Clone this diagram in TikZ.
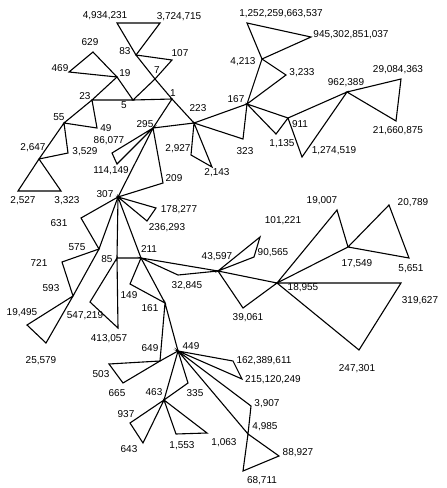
\documentclass[tikz,border=0pt]{standalone}
\usepackage{fontspec}
\setmainfont{Liberation Sans}
\usepackage{tikz}

\begin{document}
\begin{tikzpicture}[x=1pt, y=-1pt, font=\fontsize{10}{12}\selectfont,
  lbl/.style={inner sep=0pt},
  edge/.style={line width=1.1pt}]
\useasboundingbox (0,0) rectangle (447,488);
% vertices
\coordinate (n4934231) at (117,23);
\coordinate (n3724715) at (160,23);
\coordinate (n83) at (136,55);
\coordinate (n107) at (172,60);
\coordinate (n7) at (155,79);
\coordinate (n629) at (93,52);
\coordinate (n469) at (69,72);
\coordinate (n19) at (117,77);
\coordinate (n5) at (133,100);
\coordinate (n1) at (172,99);
\coordinate (n23) at (92,100);
\coordinate (n49) at (97,128);
\coordinate (n55) at (64,123);
\coordinate (n3529) at (68,153);
\coordinate (n2647) at (39,159);
\coordinate (n2527) at (18,191);
\coordinate (n3323) at (61,191);
\coordinate (n295) at (153,128);
\coordinate (n223) at (194,123);
\coordinate (n86077) at (112,153);
\coordinate (n114149) at (117,164);
\coordinate (n209) at (163,183);
\coordinate (n307) at (118,197);
\coordinate (n2927) at (191,155);
\coordinate (n2143) at (212,167);
\coordinate (n323) at (243,139);
\coordinate (n167) at (247,104);
\coordinate (n4213) at (262,59);
\coordinate (n1252) at (247,23);
\coordinate (n945) at (311,37);
\coordinate (n3233) at (286,75);
\coordinate (n911) at (288,118);
\coordinate (n1135) at (276,134);
\coordinate (n962389) at (347,92);
\coordinate (n1274519) at (302,157);
\coordinate (n29084363) at (401,79);
\coordinate (n21660875) at (396,121);
\coordinate (n178277) at (156,208);
\coordinate (n236293) at (147,221);
\coordinate (n631) at (81,218);
\coordinate (n575) at (99,249);
\coordinate (n85) at (117,258);
\coordinate (n211) at (141,258);
\coordinate (n721) at (62,262);
\coordinate (n593) at (73,296);
\coordinate (n19495) at (27,325);
\coordinate (n25579) at (46,343);
\coordinate (n547219) at (90,302);
\coordinate (n413057) at (118,328);
\coordinate (n149) at (130,284);
\coordinate (n161) at (165,303);
\coordinate (n32845) at (178,275);
\coordinate (n43597) at (218,271);
\coordinate (n449) at (178,351);
\coordinate (n649) at (160,361);
\coordinate (n503) at (109,364);
\coordinate (n665) at (123,383);
\coordinate (n101221) at (260,237);
\coordinate (n90565) at (254,257);
\coordinate (n18955) at (277,283);
\coordinate (n39061) at (243,308);
\coordinate (n19007) at (337,210);
\coordinate (n17549) at (348,247);
\coordinate (n20789) at (389,205);
\coordinate (n5651) at (409,258);
\coordinate (n319627) at (401,283);
\coordinate (n247301) at (359,350);
\coordinate (n162389611) at (233,361);
\coordinate (n215120249) at (242,379);
\coordinate (n3907) at (251,406);
\coordinate (n4985) at (248,434);
\coordinate (n88927) at (279,456);
\coordinate (n68711) at (243,471);
\coordinate (n335) at (188,383);
\coordinate (n463) at (164,400);
\coordinate (n937) at (130,423);
\coordinate (n643) at (143,443);
\coordinate (n1553) at (176,434);
\coordinate (n1063) at (207,433);
% triangles
\draw[edge] (n83) -- (n4934231) -- (n3724715) -- cycle;
\draw[edge] (n83) -- (n107) -- (n7) -- cycle;
\draw[edge] (n19) -- (n629) -- (n469) -- cycle;
\draw[edge] (n5) -- (n19) -- (n23) -- cycle;
\draw[edge] (n1) -- (n7) -- (n5) -- cycle;
\draw[edge] (n23) -- (n55) -- (n49) -- cycle;
\draw[edge] (n55) -- (n2647) -- (n3529) -- cycle;
\draw[edge] (n2647) -- (n2527) -- (n3323) -- cycle;
\draw[edge] (n1) -- (n295) -- (n223) -- cycle;
\draw[edge] (n295) -- (n86077) -- (n114149) -- cycle;
\draw[edge] (n295) -- (n209) -- (n307) -- cycle;
\draw[edge] (n223) -- (n2927) -- (n2143) -- cycle;
\draw[edge] (n223) -- (n167) -- (n323) -- cycle;
\draw[edge] (n167) -- (n4213) -- (n3233) -- cycle;
\draw[edge] (n4213) -- (n1252) -- (n945) -- cycle;
\draw[edge] (n167) -- (n911) -- (n1135) -- cycle;
\draw[edge] (n911) -- (n962389) -- (n1274519) -- cycle;
\draw[edge] (n962389) -- (n29084363) -- (n21660875) -- cycle;
\draw[edge] (n307) -- (n178277) -- (n236293) -- cycle;
\draw[edge] (n307) -- (n631) -- (n575) -- cycle;
\draw[edge] (n307) -- (n85) -- (n211) -- cycle;
\draw[edge] (n575) -- (n721) -- (n593) -- cycle;
\draw[edge] (n593) -- (n19495) -- (n25579) -- cycle;
\draw[edge] (n85) -- (n547219) -- (n413057) -- cycle;
\draw[edge] (n211) -- (n149) -- (n161) -- cycle;
\draw[edge] (n211) -- (n32845) -- (n43597) -- cycle;
\draw[edge] (n161) -- (n449) -- (n649) -- cycle;
\draw[edge] (n649) -- (n503) -- (n665) -- cycle;
\draw[edge] (n43597) -- (n101221) -- (n90565) -- cycle;
\draw[edge] (n43597) -- (n39061) -- (n18955) -- cycle;
\draw[edge] (n18955) -- (n19007) -- (n17549) -- cycle;
\draw[edge] (n17549) -- (n20789) -- (n5651) -- cycle;
\draw[edge] (n18955) -- (n319627) -- (n247301) -- cycle;
\draw[edge] (n449) -- (n162389611) -- (n215120249) -- cycle;
\draw[edge] (n449) -- (n3907) -- (n4985) -- cycle;
\draw[edge] (n4985) -- (n88927) -- (n68711) -- cycle;
\draw[edge] (n449) -- (n335) -- (n463) -- cycle;
\draw[edge] (n463) -- (n937) -- (n643) -- cycle;
\draw[edge] (n463) -- (n1553) -- (n1063) -- cycle;
% labels
\node[lbl] (t4934231) at (105,16) {4,934,231};
\node[lbl] (t3724715) at (179,17) {3,724,715};
\node[lbl] (t83) at (125,51) {83};
\node[lbl] (t107) at (180,53) {107};
\node[lbl] (t629) at (90,42) {629};
\node[lbl] (t469) at (60,68) {469};
\node[lbl] (t19) at (125,73) {19};
\node[lbl] (t7) at (157,70) {7};
\node[lbl] (t23) at (85,96) {23};
\node[lbl] (t5) at (124,105) {5};
\node[lbl] (t1) at (173,93) {1};
\node[lbl] (t223) at (198,108) {223};
\node[lbl] (t55) at (59,117) {55};
\node[lbl] (t49) at (106,128) {49};
\node[lbl] (t295) at (145,124) {295};
\node[lbl] (t86077) at (109,141) {86,077};
\node[lbl] (t2647) at (33,148) {2,647};
\node[lbl] (t3529) at (85,152) {3,529};
\node[lbl] (t2927) at (178,149) {2,927};
\node[lbl] (t1252) at (281,14) {1,252,259,663,537};
\node[lbl] (t945) at (351,35) {945,302,851,037};
\node[lbl] (t4213) at (243,62) {4,213};
\node[lbl] (t3233) at (302,73) {3,233};
\node[lbl] (t962389) at (346,83) {962,389};
\node[lbl] (t29084363) at (398,70) {29,084,363};
\node[lbl] (t167) at (236,99) {167};
\node[lbl] (t911) at (300,124) {911};
\node[lbl] (t21660875) at (398,131) {21,660,875};
\node[lbl] (t323) at (245,151) {323};
\node[lbl] (t1135) at (282,144) {1,135};
\node[lbl] (t1274519) at (334,151) {1,274,519};
\node[lbl] (t114149) at (111,171) {114,149};
\node[lbl] (t209) at (174,178) {209};
\node[lbl] (t2143) at (217,173) {2,143};
\node[lbl] (t2527) at (23,201) {2,527};
\node[lbl] (t3323) at (67,201) {3,323};
\node[lbl] (t307) at (105,194) {307};
\node[lbl] (t178277) at (179,210) {178,277};
\node[lbl] (t236293) at (167,228) {236,293};
\node[lbl] (t631) at (59,223) {631};
\node[lbl] (t575) at (77,247) {575};
\node[lbl] (t211) at (149,249) {211};
\node[lbl] (t85) at (107,259) {85};
\node[lbl] (t721) at (39,263) {721};
\node[lbl] (t43597) at (217,257) {43,597};
\node[lbl] (t32845) at (187,286) {32,845};
\node[lbl] (t101221) at (283,221) {101,221};
\node[lbl] (t19007) at (322,201) {19,007};
\node[lbl] (t20789) at (413,203) {20,789};
\node[lbl] (t90565) at (273,253) {90,565};
\node[lbl] (t17549) at (357,264) {17,549};
\node[lbl] (t5651) at (411,269) {5,651};
\node[lbl] (t18955) at (303,288) {18,955};
\node[lbl] (t593) at (51,288) {593};
\node[lbl] (t149) at (129,295) {149};
\node[lbl] (t161) at (150,308) {161};
\node[lbl] (t19495) at (22,313) {19,495};
\node[lbl] (t547219) at (85,316) {547,219};
\node[lbl] (t413057) at (109,339) {413,057};
\node[lbl] (t649) at (150,348) {649};
\node[lbl] (t449) at (191,346) {449};
\node[lbl] (t25579) at (41,361) {25,579};
\node[lbl] (t503) at (101,374) {503};
\node[lbl] (t665) at (117,393) {665};
\node[lbl] (t463) at (154,392) {463};
\node[lbl] (t335) at (195,393) {335};
\node[lbl] (t319627) at (420,301) {319,627};
\node[lbl] (t39061) at (248,318) {39,061};
\node[lbl] (t162389611) at (264,361) {162,389,611};
\node[lbl] (t247301) at (357,369) {247,301};
\node[lbl] (t215120249) at (273,380) {215,120,249};
\node[lbl] (t3907) at (267,404) {3,907};
\node[lbl] (t937) at (126,414) {937};
\node[lbl] (t4985) at (265,427) {4,985};
\node[lbl] (t643) at (129,449) {643};
\node[lbl] (t1553) at (182,446) {1,553};
\node[lbl] (t1063) at (224,443) {1,063};
\node[lbl] (t88927) at (298,453) {88,927};
\node[lbl] (t68711) at (262,481) {68,711};
\end{tikzpicture}
\end{document}
